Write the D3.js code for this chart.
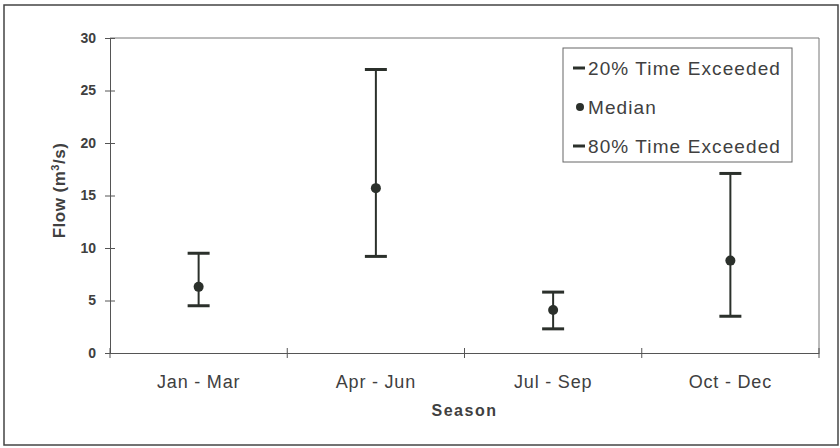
<!DOCTYPE html>
<html>
<head>
<meta charset="utf-8">
<script src="https://cdn.jsdelivr.net/npm/d3@7"></script>
<style>
    body { margin: 0; background: #fff; }
    text { font-family: Arial, "Liberation Sans", sans-serif; fill: #404040; }
</style>
</head>
<body>
<div id="chart"></div>
<script>
// chart values
const seasons = ['Jan - Mar', 'Apr - Jun', 'Jul - Sep', 'Oct - Dec'];
const exceeded20 = [9.5, 27, 5.8, 17.1];
const median = [6.3, 15.7, 4.1, 8.8];
const exceeded80 = [4.5, 9.2, 2.3, 3.5];
const yTicks = [0, 5, 10, 15, 20, 25, 30];

const W = 840, H = 448;
const margin = { top: 38, right: 21, bottom: 95, left: 110 };
const width = W - margin.left - margin.right;
const height = H - margin.top - margin.bottom;
const ink = '#2b302b';

const svg = d3.select('#chart')
    .append('svg')
    .attr('width', W)
    .attr('height', H);

// outer frame
svg.append('rect')
    .attr('x', 4).attr('y', 5)
    .attr('width', 834).attr('height', 440)
    .attr('fill', 'none')
    .attr('stroke', '#444')
    .attr('stroke-width', 1.5);

const g = svg.append('g')
    .attr('transform', 'translate(' + margin.left + ',' + margin.top + ')');

const xScale = d3.scaleBand()
    .domain(seasons)
    .range([0, width]);
const yScale = d3.scaleLinear()
    .domain([0, 30])
    .range([height, 0]);

// plot area border (top & right)
g.append('path')
    .attr('d', 'M0,0H' + width + 'V' + height)
    .attr('fill', 'none')
    .attr('stroke', '#777')
    .attr('stroke-width', 1);

// y axis
const yAxis = d3.axisLeft(yScale)
    .tickValues(yTicks)
    .tickSize(0)
    .tickPadding(14);
const yAxisG = g.append('g').call(yAxis);
yAxisG.select('.domain').attr('stroke', '#555');
yAxisG.selectAll('text')
    .style('font-size', '14px')
    .style('font-weight', 'bold')
    .attr('fill', '#484848');
yAxisG.selectAll('.tick').append('line')
    .attr('x1', -5).attr('x2', 5)
    .attr('stroke', '#555');

// x axis
const xAxis = d3.axisBottom(xScale).tickSize(0).tickPadding(22);
const xAxisG = g.append('g')
    .attr('transform', 'translate(0,' + height + ')')
    .call(xAxis);
xAxisG.select('.domain').attr('stroke', '#555');
xAxisG.selectAll('text')
    .style('font-size', '18px')
    .style('letter-spacing', '0.8px')
    .attr('fill', '#484848');
// band boundary ticks
const bounds = seasons.map(s => xScale(s)).concat([width]);
xAxisG.selectAll('line.bound')
    .data(bounds)
    .enter().append('line')
    .classed('bound', true)
    .attr('x1', d => d).attr('x2', d => d)
    .attr('y1', -5).attr('y2', 5)
    .attr('stroke', '#555');

// axis labels
svg.append('text')
    .text('Season')
    .attr('x', margin.left + width / 2)
    .attr('y', 416)
    .attr('text-anchor', 'middle')
    .style('font-size', '16px')
    .style('font-weight', 'bold')
    .style('letter-spacing', '1.5px');
const yLabel = svg.append('text')
    .attr('text-anchor', 'middle')
    .attr('transform', 'translate(65,' + (margin.top + height / 2 - 5) + ') rotate(-90)')
    .style('font-size', '17px')
    .style('font-weight', 'bold')
    .style('letter-spacing', '0.5px');
yLabel.append('tspan').text('Flow (m');
yLabel.append('tspan').text('3').attr('baseline-shift', 'super').style('font-size', '11px');
yLabel.append('tspan').text('/s)');

// error bars
const data = seasons.map((s, i) => ({
    season: s, hi: exceeded20[i], mid: median[i], lo: exceeded80[i]
}));
const cap = 11;
const bars = g.selectAll('g.bar')
    .data(data)
    .enter().append('g')
    .classed('bar', true)
    .attr('transform', d => 'translate(' + (xScale(d.season) + xScale.bandwidth() / 2) + ',0)');

bars.append('line')
    .attr('y1', d => yScale(d.hi))
    .attr('y2', d => yScale(d.lo))
    .attr('stroke', ink)
    .attr('stroke-width', 2);
bars.append('line')
    .attr('x1', -cap).attr('x2', cap)
    .attr('y1', d => yScale(d.hi)).attr('y2', d => yScale(d.hi))
    .attr('stroke', ink)
    .attr('stroke-width', 3);
bars.append('line')
    .attr('x1', -cap).attr('x2', cap)
    .attr('y1', d => yScale(d.lo)).attr('y2', d => yScale(d.lo))
    .attr('stroke', ink)
    .attr('stroke-width', 3);
bars.append('circle')
    .attr('cy', d => yScale(d.mid))
    .attr('r', 5)
    .attr('fill', ink);

// legend
const legend = svg.append('g').attr('transform', 'translate(563,48)');
legend.append('rect')
    .attr('width', 229).attr('height', 114)
    .attr('fill', '#fff')
    .attr('stroke', '#666')
    .attr('stroke-width', 1);
const legendItems = ['20% Time Exceeded', 'Median', '80% Time Exceeded'];
const items = legend.selectAll('g.item')
    .data(legendItems)
    .enter().append('g')
    .classed('item', true)
    .attr('transform', (d, i) => 'translate(0,' + (20 + i * 39) + ')');
items.each(function(d, i) {
    const el = d3.select(this);
    if (i === 1) {
        el.append('circle').attr('cx', 17).attr('r', 4).attr('fill', ink);
    } else {
        el.append('line')
            .attr('x1', 10).attr('x2', 22)
            .attr('stroke', ink).attr('stroke-width', 3);
    }
    el.append('text')
        .text(d)
        .attr('x', 25)
        .attr('dy', '0.35em')
        .style('font-size', '19px')
        .style('letter-spacing', '1.1px');
});
</script>
</body>
</html>
